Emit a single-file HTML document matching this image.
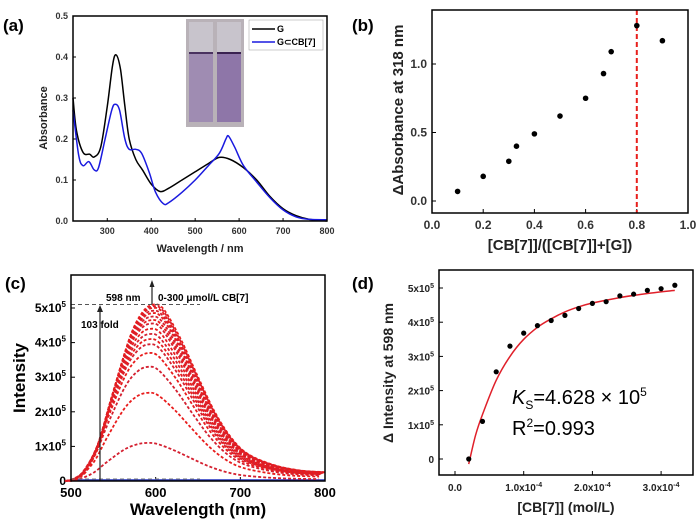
<!DOCTYPE html>
<html><head><meta charset="utf-8"><style>
html,body{margin:0;padding:0;background:#fff;}
svg{display:block;font-family:"Liberation Sans",Arial,sans-serif;}
</style></head><body>
<svg id="fig" width="700" height="521" viewBox="0 0 700 521" xmlns="http://www.w3.org/2000/svg"></svg>
<script>
// ---------- DATA ----------
// Panel (a)
const aWlG   = [222,230,245,260,270,285,300,312,320,330,340,350,365,380,400,420,440,470,500,530,555,580,610,640,670,700,730,760,800];
const aAbsG  = [0.30,0.22,0.167,0.163,0.156,0.18,0.28,0.38,0.405,0.37,0.28,0.20,0.15,0.125,0.09,0.072,0.08,0.10,0.12,0.14,0.155,0.15,0.13,0.10,0.06,0.03,0.013,0.004,0.0];
const aWlB   = [222,235,245,258,270,280,295,310,318,328,340,350,365,378,395,410,428,440,470,500,530,555,570,576,590,610,640,670,700,730,760,800];
const aAbsB  = [0.27,0.16,0.135,0.145,0.125,0.13,0.20,0.27,0.285,0.27,0.20,0.175,0.175,0.165,0.12,0.07,0.042,0.045,0.07,0.10,0.135,0.165,0.20,0.207,0.18,0.135,0.095,0.057,0.027,0.01,0.004,0.003];
const aXTicks = [300,400,500,600,700,800];
const aYTicks = [0.0,0.1,0.2,0.3,0.4,0.5];
// Panel (b)
const bX = [0.1,0.2,0.3,0.33,0.4,0.5,0.6,0.67,0.7,0.8,0.9];
const bY = [0.07,0.18,0.29,0.40,0.49,0.62,0.75,0.93,1.09,1.28,1.17];
const bXTicks = [0.0,0.2,0.4,0.6,0.8,1.0];
const bYTicks = [0.0,0.5,1.0];
const bLine = 0.8;
// Panel (c)
const cWl   = [500,510,520,535,550,570,585,598,610,630,650,670,690,710,740,770,800];
const cNorm = [0,0.02,0.07,0.23,0.5,0.82,0.96,1,0.97,0.8,0.59,0.39,0.24,0.15,0.09,0.06,0.05];
const cPeaks = [1.1,2.55,3.3,3.7,3.95,4.1,4.25,4.4,4.55,4.65,4.75,4.85,4.92,5.0,5.05,5.1];
const cXTicks = [500,600,700,800];
const cYTicks = [0,1,2,3,4,5];
// Panel (d)
const dX = [0.2,0.4,0.6,0.8,1.0,1.2,1.4,1.6,1.8,2.0,2.2,2.4,2.6,2.8,3.0,3.2];
const dY = [0.0,1.1,2.55,3.3,3.68,3.9,4.05,4.2,4.4,4.55,4.6,4.77,4.82,4.93,4.98,5.08];
const dFitX = [0.2,0.3,0.4,0.6,0.8,1.0,1.2,1.4,1.6,1.8,2.0,2.4,2.8,3.2];
const dFitY = [-0.15,0.7,1.3,2.3,3.0,3.5,3.85,4.1,4.3,4.45,4.56,4.72,4.84,4.93];
const dXTicks = [0,1,2,3];
const dYTicks = [0,1,2,3,4,5];

// ---------- HELPERS ----------
const NS="http://www.w3.org/2000/svg";
const svg=document.getElementById('fig');
function el(tag,attrs,parent,text){const e=document.createElementNS(NS,tag);for(const k in attrs)e.setAttribute(k,attrs[k]);if(text!==undefined)e.textContent=text;(parent||svg).appendChild(e);return e;}
function scale(d0,d1,r0,r1){return v=>r0+(v-d0)/(d1-d0)*(r1-r0);}
function smooth(pts){let d='M'+pts[0][0].toFixed(1)+','+pts[0][1].toFixed(1);
 for(let i=0;i<pts.length-1;i++){const p0=pts[i-1]||pts[i],p1=pts[i],p2=pts[i+1],p3=pts[i+2]||p2;
  const c1x=p1[0]+(p2[0]-p0[0])/6,c1y=p1[1]+(p2[1]-p0[1])/6,c2x=p2[0]-(p3[0]-p1[0])/6,c2y=p2[1]-(p3[1]-p1[1])/6;
  d+=' C'+c1x.toFixed(1)+','+c1y.toFixed(1)+' '+c2x.toFixed(1)+','+c2y.toFixed(1)+' '+p2[0].toFixed(1)+','+p2[1].toFixed(1);}
 return d;}
function frame(g,x0,y0,x1,y1,sw){const r=el('rect',{x:x0,y:y0,width:x1-x0,height:y1-y0,fill:'none',stroke:'#000','stroke-width':sw},g);
 }

// ---------- PANEL A ----------
(function(){
 const g=el('g',{});
 const x=scale(222,800,73,327), y=scale(0,0.5,221,16);
 const lab=el('text',{x:3,y:31,'font-size':17,'font-weight':'bold'},g,'(a)');
 aXTicks.forEach(t=>{el('line',{x1:x(t),x2:x(t),y1:221,y2:218,stroke:'#000','stroke-width':1},g);
  const tx=el('text',{x:x(t),y:234,'font-size':9,'font-weight':'bold','text-anchor':'middle',fill:'#333'},g,t);});
 aYTicks.forEach(t=>{el('line',{x1:73,x2:76,y1:y(t),y2:y(t),stroke:'#000','stroke-width':1},g);
  const tx=el('text',{x:68,y:y(t)+3,'font-size':9,'font-weight':'bold','text-anchor':'end',fill:'#333'},g,t.toFixed(1));});
 const lg=el('path',{d:smooth(aWlG.map((w,i)=>[x(w),y(aAbsG[i])])),fill:'none',stroke:'#000','stroke-width':1.5},g);
 
 const lb=el('path',{d:smooth(aWlB.map((w,i)=>[x(w),y(aAbsB[i])])),fill:'none',stroke:'#1a1adf','stroke-width':1.5},g);
 
 frame(g,73,16,327,221,1.5);
 const ph=el('g',{},g);
 el('rect',{x:186,y:19,width:58,height:108,fill:'#b9b2b8'},ph);
 el('rect',{x:189,y:22,width:24,height:100,fill:'#c8c4cc'},ph);
 el('rect',{x:189,y:52,width:24,height:70,fill:'#9f8cb2'},ph);
 el('rect',{x:217,y:22,width:24,height:100,fill:'#c8c4cc'},ph);
 el('rect',{x:217,y:52,width:24,height:70,fill:'#8e76a8'},ph);
 el('line',{x1:189,x2:213,y1:53,y2:53,stroke:'#4a3260','stroke-width':2},ph);
 el('line',{x1:217,x2:241,y1:53,y2:53,stroke:'#3a2250','stroke-width':2},ph);
 const lgd=el('g',{},g);
 el('rect',{x:249,y:20,width:74,height:30,fill:'#fff',stroke:'#999','stroke-width':0.5},lgd);
 el('line',{x1:252,x2:275,y1:29,y2:29,stroke:'#000','stroke-width':1.5},lgd);
 el('text',{x:277,y:32,'font-size':9,'font-weight':'bold'},lgd,'G');
 el('line',{x1:252,x2:275,y1:42,y2:42,stroke:'#1a1adf','stroke-width':1.5},lgd);
 el('text',{x:277,y:45,'font-size':9,'font-weight':'bold'},lgd,'G⊂CB[7]');
 const xt=el('text',{x:200,y:252,'font-size':11,'font-weight':'bold','text-anchor':'middle',fill:'#222'},g,'Wavelength / nm');
 const yt=el('text',{x:0,y:0,'font-size':11,'font-weight':'bold','text-anchor':'middle',fill:'#222',transform:'translate(47,118) rotate(-90)'},g,'Absorbance');
})();

// ---------- PANEL B ----------
(function(){
 const g=el('g',{});
 const x=scale(0,1,432,688), y=scale(0,1,201,64);
 const lab=el('text',{x:352,y:31,'font-size':17,'font-weight':'bold'},g,'(b)');
 bXTicks.forEach(t=>{el('line',{x1:x(t),x2:x(t),y1:213,y2:209,stroke:'#000','stroke-width':1},g);
  const tx=el('text',{x:x(t),y:229,'font-size':12,'font-weight':'bold','text-anchor':'middle',fill:'#333'},g,t.toFixed(1));});
 bYTicks.forEach(t=>{el('line',{x1:432,x2:436,y1:y(t),y2:y(t),stroke:'#000','stroke-width':1},g);
  const tx=el('text',{x:427,y:y(t)+4,'font-size':12,'font-weight':'bold','text-anchor':'end',fill:'#333'},g,t.toFixed(1));});
 const rl=el('line',{x1:x(bLine),x2:x(bLine),y1:10,y2:213,stroke:'#e8201c','stroke-width':2,'stroke-dasharray':'5,3'},g);
 
 bX.forEach((v,i)=>{const c=el('circle',{cx:x(v),cy:y(bY[i]),r:2.8,fill:'#000'},g);
  });
 frame(g,432,10,688,213,1.5);
 const xt=el('text',{x:560,y:250,'font-size':15,'font-weight':'bold','text-anchor':'middle',fill:'#222'},g,'[CB[7]]/([CB[7]]+[G])');
 const yt=el('text',{x:0,y:0,'font-size':15,'font-weight':'bold','text-anchor':'middle',fill:'#222',transform:'translate(403,110) rotate(-90)'},g,'ΔAbsorbance at 318 nm');
})();

// ---------- PANEL C ----------
(function(){
 const g=el('g',{});
 const x=scale(500,800,71,325), y=scale(0,5,481,308);
 const lab=el('text',{x:5,y:289,'font-size':17,'font-weight':'bold'},g,'(c)');
 cXTicks.forEach(t=>{el('line',{x1:x(t),x2:x(t),y1:481,y2:477,stroke:'#000','stroke-width':1},g);
  const tx=el('text',{x:x(t),y:497,'font-size':13,'font-weight':'bold','text-anchor':'middle'},g,t);});
 cYTicks.forEach(t=>{el('line',{x1:71,x2:75,y1:y(t),y2:y(t),stroke:'#000','stroke-width':1},g);
  const tx=el('text',{x:66,y:y(t)+4,'font-size':12,'font-weight':'bold','text-anchor':'end'},g);
  
  if(t===0){tx.textContent='0';}else{tx.textContent=t+'x10';el('tspan',{dy:-5,'font-size':8},tx,'5');}});
 const bl=el('line',{x1:x(500),x2:x(800),y1:480,y2:480,stroke:'#2030c0','stroke-width':1.5},g);
 cPeaks.forEach((p,k)=>{const shift=(cPeaks.length-1-k)*0.5;
  const pts=cWl.map((w,i)=>[x(w-shift),y(p*cNorm[i])]);
  const pa=el('path',{d:smooth(pts),fill:'none',stroke:k%2?'#e81c1c':'#d42030','stroke-width':1.8,'stroke-dasharray':'3,2'},g);
  });
 el('line',{x1:71,x2:200,y1:y(5.1),y2:y(5.1),stroke:'#555','stroke-width':1,'stroke-dasharray':'4,3'},g);
 el('line',{x1:71,x2:200,y1:479,y2:479,stroke:'#777','stroke-width':1,'stroke-dasharray':'4,3'},g);
 const fa=el('g',{},g);
 el('line',{x1:100,x2:100,y1:481,y2:310,stroke:'#222','stroke-width':1.2},fa);
 el('path',{d:'M97,312 L100,305 L103,312 Z',fill:'#222'},fa);
 el('text',{x:81,y:328,'font-size':10,'font-weight':'bold'},fa,'103 fold');
 const ua=el('g',{},g);
 el('line',{x1:152,x2:152,y1:304,y2:284,stroke:'#222','stroke-width':1.2},ua);
 el('path',{d:'M149.5,287 L152,280 L154.5,287 Z',fill:'#222'},ua);
 el('text',{x:106,y:301,'font-size':10,'font-weight':'bold'},g,'598 nm');
 el('text',{x:158,y:301,'font-size':10,'font-weight':'bold'},g,'0-300 μmol/L CB[7]');
 frame(g,71,275,325,481,1.5);
 const xt=el('text',{x:198,y:515,'font-size':17,'font-weight':'bold','text-anchor':'middle'},g,'Wavelength (nm)');
 const yt=el('text',{x:0,y:0,'font-size':17,'font-weight':'bold','text-anchor':'middle',transform:'translate(25,378) rotate(-90)'},g,'Intensity');
})();

// ---------- PANEL D ----------
(function(){
 const g=el('g',{});
 const x=scale(0,1,455,523.7), y=scale(0,5,459,288);
 const lab=el('text',{x:352,y:289,'font-size':17,'font-weight':'bold'},g,'(d)');
 dXTicks.forEach(t=>{el('line',{x1:x(t),x2:x(t),y1:475,y2:471,stroke:'#000','stroke-width':1},g);
  const tx=el('text',{x:x(t),y:491,'font-size':10,'font-weight':'bold','text-anchor':'middle',fill:'#222'},g);
  
  if(t===0){tx.textContent='0.0';}else{tx.textContent=t.toFixed(1)+'x10';el('tspan',{dy:-4,'font-size':7},tx,'-4');}});
 dYTicks.forEach(t=>{el('line',{x1:439,x2:443,y1:y(t),y2:y(t),stroke:'#000','stroke-width':1},g);
  const tx=el('text',{x:434,y:y(t)+4,'font-size':10,'font-weight':'bold','text-anchor':'end',fill:'#222'},g);
  
  if(t===0){tx.textContent='0';}else{tx.textContent=t+'x10';el('tspan',{dy:-4,'font-size':7},tx,'5');}});
 const fit=el('path',{d:smooth(dFitX.map((v,i)=>[x(v),y(dFitY[i])])),fill:'none',stroke:'#e0202a','stroke-width':1.5},g);
 
 dX.forEach((v,i)=>{const c=el('circle',{cx:x(v),cy:y(dY[i]),r:2.6,fill:'#000'},g);
  });
 frame(g,439,270,693,475,1.5);
 const ks=el('text',{x:512,y:404,'font-size':20},g);
 el('tspan',{'font-style':'italic'},ks,'K');el('tspan',{dy:5,'font-size':12},ks,'S');el('tspan',{dy:-5},ks,'=4.628 × 10');el('tspan',{dy:-8,'font-size':12},ks,'5');
 const r2=el('text',{x:512,y:435,'font-size':20},g);
 el('tspan',{},r2,'R');el('tspan',{dy:-8,'font-size':12},r2,'2');el('tspan',{dy:8},r2,'=0.993');
 const xt=el('text',{x:566,y:512,'font-size':14,'font-weight':'bold','text-anchor':'middle',fill:'#222'},g,'[CB[7]] (mol/L)');
 const yt=el('text',{x:0,y:0,'font-size':14,'font-weight':'bold','text-anchor':'middle',fill:'#222',transform:'translate(393,373) rotate(-90)'},g,'Δ Intensity at 598 nm');
})();
</script>
</body></html>
